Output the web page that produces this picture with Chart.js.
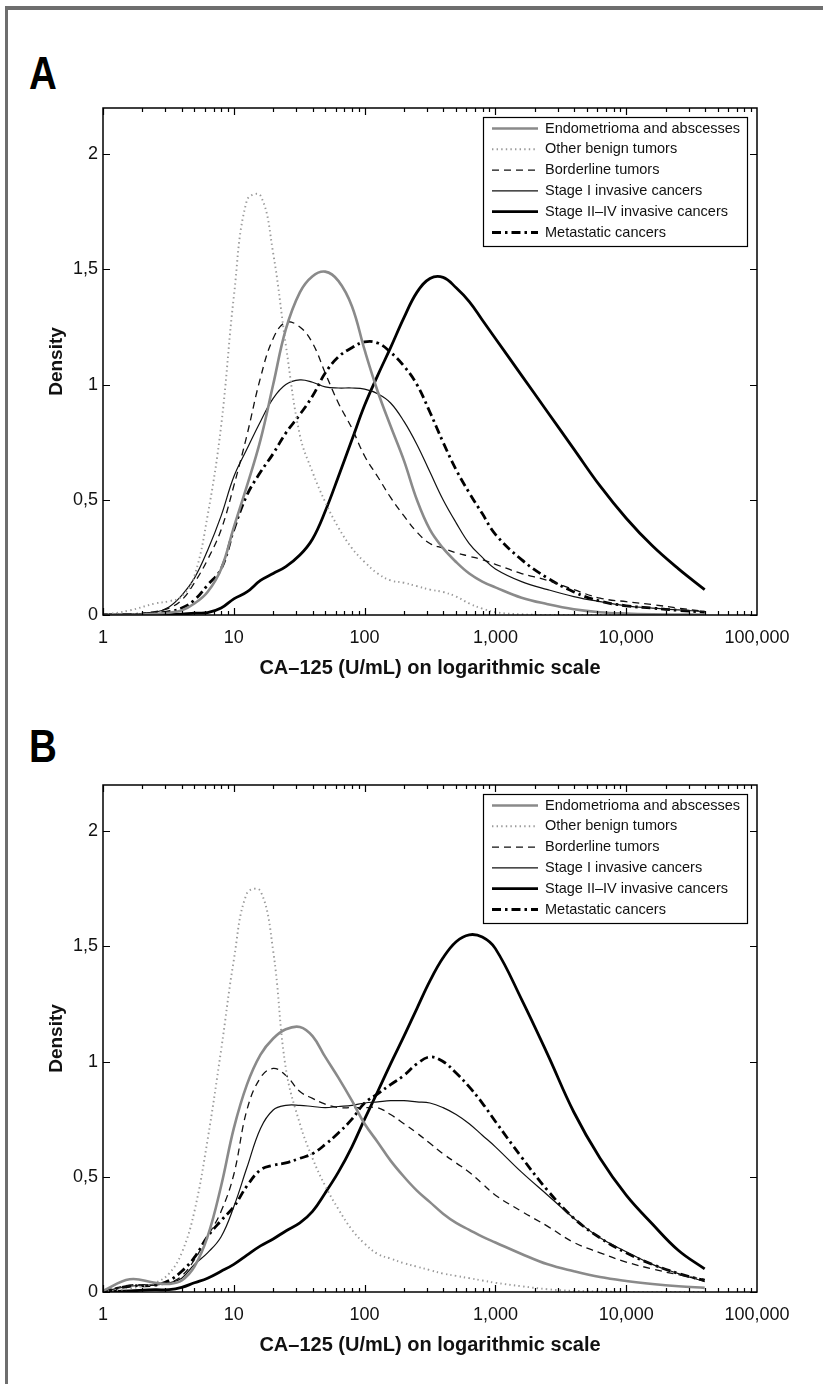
<!DOCTYPE html>
<html><head><meta charset="utf-8">
<script src="https://cdn.jsdelivr.net/npm/chart.js@4.4.1/dist/chart.umd.min.js"></script>
<style>
html,body{margin:0;padding:0;background:#fff;}
body{width:823px;height:1384px;position:relative;overflow:hidden;}
#bt{position:absolute;left:5px;top:6px;width:818px;height:4px;background:#6e6e6e;}
#bl{position:absolute;left:5px;top:6px;width:3px;height:1378px;background:#6e6e6e;}
.plab{position:absolute;left:29px;font-family:"Liberation Sans",Arial,sans-serif;font-weight:bold;font-size:47px;line-height:1;transform:scaleX(0.82);transform-origin:0 0;color:#000;}
canvas{position:absolute;left:0;}
</style></head>
<body>
<div id="bt"></div><div id="bl"></div>
<div class="plab" style="top:49px">A</div>
<div class="plab" style="top:722px">B</div>
<canvas id="chartA" width="823" height="700" style="top:0px"></canvas>
<canvas id="chartB" width="823" height="700" style="top:677px"></canvas>
<script>
// CA-125 (U/mL) sample points shared by all curves
const caValues = [1,1.6,2.5,3.2,4,5,6.3,8,10,12.6,16,20,25,32,40,50,63,80,100,126,158,200,251,316,398,501,631,794,1000,1585,2512,3981,6310,10000,15850,25120,39810];

const xTickValues = [1,10,100,1000,10000,100000];
const xTickLabels = ['1','10','100','1,000','10,000','100,000'];
const yTickValues = [0,0.5,1,1.5,2];
const yTickLabels = ['0','0,5','1','1,5','2'];

const seriesNames = ['Endometrioma and abscesses','Other benign tumors','Borderline tumors','Stage I invasive cancers','Stage II\u2013IV invasive cancers','Metastatic cancers'];

// Panel A
const endometriomaA = [0,0,0.005,0.01,0.02,0.05,0.1,0.2,0.38,0.56,0.76,1.0,1.24,1.4,1.47,1.49,1.45,1.34,1.15,0.97,0.82,0.67,0.5,0.37,0.29,0.23,0.18,0.145,0.12,0.075,0.047,0.025,0.012,0.006,0.003,0.002,0.001];
const benignA = [0,0.02,0.05,0.06,0.08,0.17,0.43,0.82,1.38,1.8,1.82,1.57,1.17,0.78,0.62,0.49,0.38,0.29,0.23,0.18,0.15,0.14,0.125,0.11,0.1,0.08,0.05,0.028,0.012,0.003,0,0,0,0,0,0,0];
const borderlineA = [0,0.002,0.015,0.03,0.065,0.14,0.24,0.37,0.56,0.78,1.03,1.2,1.27,1.25,1.18,1.05,0.92,0.81,0.69,0.6,0.51,0.43,0.36,0.31,0.29,0.27,0.255,0.24,0.22,0.18,0.15,0.11,0.073,0.058,0.045,0.03,0.015];
const stageIA = [0,0.002,0.012,0.035,0.085,0.16,0.28,0.43,0.6,0.72,0.84,0.94,1.0,1.02,1.01,0.99,0.985,0.985,0.98,0.96,0.92,0.84,0.74,0.62,0.5,0.4,0.31,0.25,0.2,0.145,0.11,0.08,0.058,0.04,0.03,0.022,0.015];
const stageIIA = [0,0,0,0.001,0.004,0.008,0.01,0.03,0.07,0.1,0.15,0.18,0.21,0.26,0.33,0.45,0.6,0.76,0.91,1.04,1.16,1.29,1.4,1.46,1.465,1.42,1.36,1.28,1.2,1.04,0.88,0.72,0.56,0.42,0.3,0.2,0.11];
const metastaticA = [0,0.002,0.008,0.015,0.03,0.065,0.13,0.2,0.37,0.52,0.62,0.7,0.79,0.87,0.95,1.05,1.12,1.16,1.185,1.18,1.14,1.08,1.0,0.88,0.75,0.63,0.53,0.44,0.35,0.24,0.16,0.1,0.06,0.04,0.03,0.02,0.012];

// Panel B
const endometriomaB = [0.005,0.055,0.04,0.035,0.05,0.11,0.24,0.46,0.71,0.9,1.03,1.1,1.14,1.15,1.11,1.02,0.93,0.83,0.73,0.65,0.57,0.5,0.44,0.39,0.34,0.3,0.27,0.24,0.215,0.165,0.12,0.09,0.065,0.048,0.035,0.025,0.018];
const benignB = [0,0.015,0.04,0.08,0.17,0.35,0.66,1.05,1.44,1.73,1.74,1.48,0.97,0.73,0.58,0.46,0.36,0.27,0.21,0.165,0.145,0.125,0.11,0.095,0.08,0.07,0.06,0.05,0.04,0.025,0.012,0.005,0.002,0,0,0,0];
const borderlineB = [0.002,0.03,0.03,0.04,0.07,0.14,0.24,0.35,0.51,0.79,0.93,0.97,0.94,0.87,0.84,0.815,0.8,0.8,0.8,0.8,0.77,0.73,0.69,0.645,0.6,0.56,0.52,0.47,0.42,0.35,0.285,0.215,0.17,0.13,0.1,0.075,0.055];
const stageIB = [0.002,0.025,0.03,0.04,0.06,0.12,0.17,0.24,0.37,0.54,0.71,0.79,0.81,0.81,0.805,0.8,0.805,0.81,0.82,0.825,0.83,0.83,0.825,0.82,0.8,0.77,0.73,0.68,0.63,0.52,0.42,0.32,0.235,0.175,0.12,0.08,0.045];
const stageIIB = [0,0.005,0.01,0.01,0.02,0.04,0.06,0.09,0.12,0.16,0.2,0.23,0.265,0.3,0.35,0.43,0.52,0.63,0.75,0.87,0.99,1.11,1.23,1.35,1.45,1.52,1.55,1.54,1.49,1.27,1.03,0.78,0.58,0.42,0.295,0.18,0.1];
const metastaticB = [0.002,0.025,0.03,0.05,0.09,0.15,0.24,0.31,0.37,0.46,0.53,0.55,0.56,0.58,0.6,0.64,0.69,0.75,0.82,0.86,0.9,0.94,0.99,1.02,1.0,0.95,0.89,0.82,0.74,0.585,0.44,0.32,0.235,0.17,0.12,0.08,0.05];

const lineStyles = [
  {borderColor:'#8a8a8a', borderWidth:2.6, borderDash:[]},
  {borderColor:'#9a9a9a', borderWidth:1.9, borderDash:[1.4,3.2]},
  {borderColor:'#111111', borderWidth:1.3, borderDash:[7,5]},
  {borderColor:'#111111', borderWidth:1.2, borderDash:[]},
  {borderColor:'#000000', borderWidth:2.8, borderDash:[]},
  {borderColor:'#000000', borderWidth:2.8, borderDash:[9,4,2.5,4]}
];

const FONT = '"Liberation Sans", Arial, Helvetica, sans-serif';

const decorPlugin = {
  id: 'decor',
  afterDatasetsDraw(chart) {
    const ctx = chart.ctx, a = chart.chartArea;
    const xs = chart.scales.x, ys = chart.scales.y;
    ctx.save();
    ctx.setLineDash([]);
    ctx.strokeStyle = '#000';
    ctx.lineWidth = 1.2;
    ctx.beginPath();
    for (let d = 0; d < 5; d++) {
      for (let m = 1; m <= 9; m++) {
        const px = Math.round(xs.getPixelForValue(Math.pow(10, d) * m)) + 0.5;
        const len = m === 1 ? 7 : 4;
        ctx.moveTo(px, a.bottom); ctx.lineTo(px, a.bottom - len);
        ctx.moveTo(px, a.top); ctx.lineTo(px, a.top + len);
      }
    }
    yTickValues.forEach(v => {
      const py = Math.round(ys.getPixelForValue(v)) + 0.5;
      ctx.moveTo(a.left, py); ctx.lineTo(a.left + 7, py);
      ctx.moveTo(a.right, py); ctx.lineTo(a.right - 7, py);
    });
    ctx.stroke();
    ctx.lineWidth = 1.5;
    ctx.strokeRect(a.left, a.top, a.right - a.left, a.bottom - a.top);

    // legend box
    const bx = 483, by = a.top + 9, bw = 264, bh = 129;
    ctx.fillStyle = '#fff';
    ctx.fillRect(bx, by, bw, bh);
    ctx.lineWidth = 1.2;
    ctx.strokeStyle = '#000';
    ctx.strokeRect(bx + 0.5, by + 0.5, bw, bh);
    ctx.font = '14.5px ' + FONT;
    ctx.textBaseline = 'middle';
    ctx.textAlign = 'left';
    chart.data.datasets.forEach((ds, i) => {
      const ry = by + 11.5 + i * 20.8;
      ctx.save();
      ctx.strokeStyle = ds.borderColor;
      ctx.lineWidth = ds.borderWidth;
      ctx.setLineDash(ds.borderDash || []);
      ctx.beginPath();
      ctx.moveTo(bx + 9, ry); ctx.lineTo(bx + 55, ry);
      ctx.stroke();
      ctx.restore();
      ctx.fillStyle = '#111';
      ctx.fillText(ds.label, bx + 62, ry);
    });
    ctx.restore();
  }
};

function makeChart(id, seriesList) {
  const datasets = seriesList.map((vals, i) => Object.assign({
    label: seriesNames[i],
    data: caValues.map((x, j) => ({x: x, y: vals[j]})),
    pointRadius: 0,
    fill: false,
    tension: 0.4
  }, lineStyles[i]));
  return new Chart(document.getElementById(id), {
    type: 'line',
    data: {datasets: datasets},
    options: {
      responsive: false,
      animation: false,
      layout: {padding: {left: 0, top: 108, right: 66, bottom: 15}},
      plugins: {legend: {display: false}, tooltip: {enabled: false}},
      scales: {
        x: {
          type: 'logarithmic', min: 1, max: 100000,
          afterBuildTicks: s => { s.ticks = xTickValues.map(v => ({value: v})); },
          afterFit: s => { s.height = 70; s.paddingLeft = 0; s.paddingRight = 0; },
          ticks: {autoSkip: false, maxRotation: 0, minRotation: 0, padding: 12, color: '#111',
                  font: {family: FONT, size: 18},
                  callback: v => xTickLabels[xTickValues.indexOf(v)]},
          grid: {display: false, drawTicks: false},
          border: {display: false},
          title: {display: true, text: 'CA\u2013125 (U/mL) on logarithmic scale', color: '#111',
                  font: {family: FONT, size: 20, weight: 'bold'}, padding: {top: 0, bottom: 5}}
        },
        y: {
          type: 'linear', min: 0, max: 2.2,
          afterBuildTicks: s => { s.ticks = yTickValues.map(v => ({value: v})); },
          afterFit: s => { s.width = 103; s.paddingTop = 0; s.paddingBottom = 0; },
          ticks: {padding: 5, color: '#111', font: {family: FONT, size: 18},
                  callback: v => yTickLabels[yTickValues.indexOf(v)]},
          grid: {display: false, drawTicks: false},
          border: {display: false},
          title: {display: true, text: 'Density', color: '#111',
                  font: {family: FONT, size: 19, weight: 'bold'}, padding: {top: 45, bottom: 0}}
        }
      }
    },
    plugins: [decorPlugin]
  });
}

makeChart('chartA', [endometriomaA, benignA, borderlineA, stageIA, stageIIA, metastaticA]);
makeChart('chartB', [endometriomaB, benignB, borderlineB, stageIB, stageIIB, metastaticB]);
</script>
</body></html>
